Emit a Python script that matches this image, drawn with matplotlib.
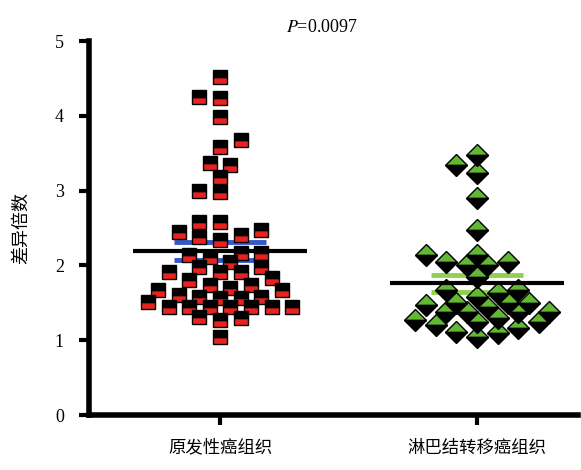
import numpy as np
import matplotlib
matplotlib.use("Agg")
import matplotlib.pyplot as plt

plt.rcParams['font.family'] = ['Liberation Serif', 'Noto Sans CJK SC', 'DejaVu Sans']
plt.rcParams['mathtext.fontset'] = 'stix'

categories = ["原发性癌组织", "淋巴结转移癌组织"]
primary = [4.52, 4.25, 4.24, 3.98, 3.68, 3.58, 3.37, 3.34, 3.18, 3.00, 2.98,
           2.58, 2.58,
           2.47, 2.41, 2.34, 2.38, 2.45,
           2.17, 2.11, 2.05, 1.98, 1.98, 2.14, 2.17,
           1.91, 1.91, 1.91, 1.83, 1.80,
           1.74, 1.70, 1.74, 1.67, 1.67,
           1.58, 1.56, 1.51, 1.56, 1.58, 1.60,
           1.44, 1.44, 1.44, 1.44, 1.44, 1.44, 1.44,
           1.30, 1.31, 1.27,
           1.04]
metastasis = [3.48, 3.34, 3.23, 2.90, 2.47,
              2.14, 2.05, 2.00, 2.00, 2.05, 2.14,
              1.85, 1.67, 1.67, 1.63, 1.58,
              1.50, 1.50, 1.50, 1.38, 1.38, 1.38, 1.38, 1.45, 1.47,
              1.24, 1.20, 1.11, 1.04, 1.10, 1.16, 1.24, 1.27, 1.30]
p_text = r"$P$=0.0097"
y_ticks = [0, 1, 2, 3, 4, 5]

W, H, DPI = 581, 470, 100
fig = plt.figure(figsize=(W / DPI, H / DPI), dpi=DPI)
left, right, bottom, top = 89, 578, 415, 41
ax = fig.add_axes([left / W, 1 - bottom / H, (right - left) / W, (bottom - top) / H])

xlim = (-0.51, 1.393)
ylim = (0, 5)
ax.set_xlim(*xlim)
ax.set_ylim(*ylim)
px_x = (right - left) / (xlim[1] - xlim[0])
px_y = (bottom - top) / (ylim[1] - ylim[0])


def swarm_offsets(vals, step=10.3, radius=13.5):
    """Greedy beeswarm in pixel space (points may overlap slightly)."""
    vals = np.asarray(vals)
    order = np.argsort(vals, kind='stable')
    placed = []
    offs = np.zeros(len(vals))
    for i in order:
        y = vals[i] * px_y
        n_left = sum(1 for px, _ in placed if px < 0)
        n_right = sum(1 for px, _ in placed if px > 0)
        first = -1 if n_left < n_right else 1
        cands = [0]
        for k in range(1, 25):
            cands += [first * k, -first * k]
        for k in cands:
            x = k * step
            if all(np.hypot(x - px, y - py) >= radius for px, py in placed):
                break
        offs[i] = x
        placed.append((x, y))
    return offs / px_x


groups = [np.array(primary), np.array(metastasis)]
sem_colors = ["#3358c8", "#8fd14f"]

for gi, vals in enumerate(groups):
    m = vals.mean()
    sem = vals.std(ddof=1) / np.sqrt(len(vals))
    hw = 0.18
    for yv in (m + sem, m - sem):
        ax.plot([gi - hw, gi + hw], [yv, yv], color=sem_colors[gi], lw=3.5,
                solid_capstyle='butt', zorder=2)
    xs = gi + swarm_offsets(vals)
    if gi == 0:
        ax.plot(xs, vals, ls='none', marker='s', markersize=10.5,
                markerfacecolor='#e8231f', markerfacecoloralt='black',
                fillstyle='bottom', markeredgecolor='black', markeredgewidth=1.0,
                zorder=3)
    else:
        ax.plot(xs, vals, ls='none', marker='D', markersize=11,
                markerfacecolor='#62b834', markerfacecoloralt='black',
                fillstyle='top', markeredgecolor='black', markeredgewidth=1.0,
                zorder=3)
    ax.plot([gi - 0.34, gi + 0.34], [m, m], color='black', lw=3,
            solid_capstyle='butt', zorder=4)

for s in ['top', 'right']:
    ax.spines[s].set_visible(False)
for s in ['left', 'bottom']:
    ax.spines[s].set_linewidth(4)
    ax.spines[s].set_capstyle('projecting')

ax.set_yticks(y_ticks)
ax.set_yticklabels([str(t) for t in y_ticks], fontsize=13)
ax.set_xticks([0, 1])
ax.set_xticklabels(categories, fontsize=12.5, family=['Noto Sans CJK SC'])
ax.tick_params(axis='both', direction='out', length=7, width=3)
ax.tick_params(axis='y', pad=11)
ax.tick_params(axis='x', pad=10)

ax.set_ylabel("差异倍数", fontsize=13, family=['Noto Sans CJK SC'], labelpad=18)
fig.text(322 / W, 1 - 28 / H, p_text, ha='center', va='center', fontsize=13)

fig.savefig("out.png", dpi=DPI)
